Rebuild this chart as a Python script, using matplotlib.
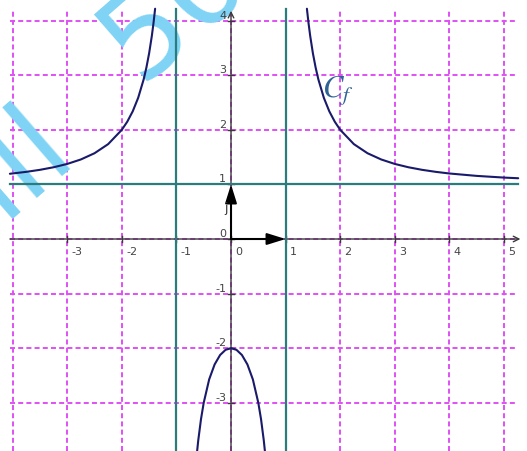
import matplotlib
matplotlib.use("Agg")
import matplotlib.pyplot as plt

plt.rcParams['lines.scale_dashes'] = False

left_x = [-4.05, -3.75, -3.5, -3.25, -3.0, -2.75, -2.5, -2.25, -2.0, -1.9,
          -1.8, -1.7, -1.6, -1.55, -1.5, -1.45, -1.42, -1.39]
left_y = [1.195, 1.23, 1.267, 1.314, 1.375, 1.457, 1.571, 1.738, 2.0, 2.149,
          2.339, 2.587, 2.923, 3.139, 3.4, 3.721, 3.952, 4.218]
mid_x = [-0.63, -0.6, -0.55, -0.5, -0.4, -0.3, -0.2, -0.1, 0.0,
         0.1, 0.2, 0.3, 0.4, 0.5, 0.55, 0.6, 0.63]
mid_y = [-3.974, -3.688, -3.301, -3.0, -2.571, -2.297, -2.125, -2.03, -2.0,
         -2.03, -2.125, -2.297, -2.571, -3.0, -3.301, -3.688, -3.974]
right_x = [1.39, 1.42, 1.45, 1.5, 1.55, 1.6, 1.7, 1.8, 1.9, 2.0, 2.25, 2.5,
           2.75, 3.0, 3.25, 3.5, 3.75, 4.0, 4.5, 5.0, 5.26]
right_y = [4.218, 3.952, 3.721, 3.4, 3.139, 2.923, 2.587, 2.339, 2.149, 2.0,
           1.738, 1.571, 1.457, 1.375, 1.314, 1.267, 1.23, 1.2, 1.156, 1.125, 1.113]

# asymptotes
asym_x = [-1, 1]
asym_y = 1

x_ticks = [-3, -2, -1, 0, 1, 2, 3, 4, 5]
y_ticks = [4, 3, 2, 1, 0, -1, -2, -3]
grid_x = [-4, -3, -2, -1, 0, 1, 2, 3, 4, 5]
grid_y = [-3, -2, -1, 0, 1, 2, 3, 4]

x0, x1 = -4.05, 5.26   # extent of the drawn grid
y0, y1 = -3.883, 4.21

fig = plt.figure(figsize=(5.27, 4.52), dpi=100)
ax = fig.add_axes([0, 0, 1, 1])
ax.set_xlim(-4.231, 5.421)
ax.set_ylim(-3.883, 4.396)
ax.axis('off')

grid_kw = dict(color='#e050f5', lw=1.4, linestyle=(0, (3.6, 2.3)), zorder=1)
for v in grid_x:
    ax.plot([v, v], [y0, y1], **grid_kw)
for v in grid_y:
    ax.plot([x0, x1], [v, v], **grid_kw)

# watermark (mostly outside the picture)
wm_kw = dict(rotation=41, rotation_mode='anchor', ha='left', va='baseline',
             fontsize=86, color='#7fd3f5', zorder=2)
ax.text(-4.194, 0.385, "lll", **wm_kw)
ax.text(-1.667, 2.894, "50", **wm_kw)

# axes with arrows
ax.annotate('', xy=(5.30, 0), xytext=(x0, 0),
            arrowprops=dict(arrowstyle='->', color='#3a3a3a', lw=1,
                            mutation_scale=10, shrinkA=0, shrinkB=0), zorder=3)
ax.annotate('', xy=(0, 4.18), xytext=(0, y0),
            arrowprops=dict(arrowstyle='->', color='#3a3a3a', lw=1,
                            mutation_scale=10, shrinkA=0, shrinkB=0), zorder=3)
for v in x_ticks:
    ax.plot([v, v], [-0.05, 0.05], color='#3a3a3a', lw=1, zorder=3)
    ax.text(v + 0.08, -0.22, str(v), fontsize=8,
            color='#444444', ha='left', va='center', zorder=3)
for v in y_ticks:
    ax.plot([-0.05, 0.05], [v, v], color='#3a3a3a', lw=1, zorder=3)
    ax.text(-0.09, v + 0.11, str(v), fontsize=8, color='#444444',
            ha='right', va='center', zorder=3)

# asymptotes
for v in asym_x:
    ax.plot([v, v], [y0, y1], color='#2b7d7b', lw=1.6, zorder=4)
ax.plot([x0, x1], [asym_y, asym_y], color='#2b7d7b', lw=1.6, zorder=4)

# unit vectors
vec_kw = dict(arrowstyle='-|>,head_length=0.8,head_width=0.25', color='black',
              lw=1.5, mutation_scale=14, shrinkA=0, shrinkB=0)
ax.annotate('', xy=(1, 0), xytext=(0, 0), arrowprops=vec_kw, zorder=5)
ax.annotate('', xy=(0, 1), xytext=(0, 0), arrowprops=vec_kw, zorder=5)
ax.text(-0.09, 0.57, 'j', fontsize=9, color='#333333', ha='center',
        va='center', zorder=5)

# curve
for xs, ys in [(left_x, left_y), (mid_x, mid_y), (right_x, right_y)]:
    ax.plot(xs, ys, color='#1a1a6b', lw=1.5, zorder=6, solid_capstyle='round')

ax.text(1.667, 2.62, r'$C_f$', fontsize=22, color='#2f6396',
        math_fontfamily='stix', ha='left', va='baseline', zorder=7)

fig.savefig('out.png', dpi=100)
